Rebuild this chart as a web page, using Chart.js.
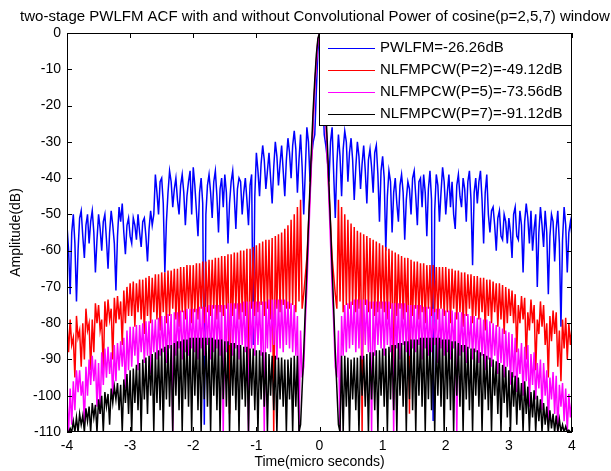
<!DOCTYPE html>
<html>
<head>
<meta charset="utf-8">
<title>two-stage PWLFM ACF</title>
<script src="https://cdn.jsdelivr.net/npm/chart.js@4.4.1/dist/chart.umd.min.js"></script>
<style>
  html, body { margin: 0; padding: 0; background: #fff; }
  canvas { display: block; }
</style>
</head>
<body>
<canvas id="acfChart" width="611" height="471"></canvas>
<script>
// Texte du graphique
const chartTitle = 'two-stage PWLFM ACF with and without Convolutional Power of cosine(p=2,5,7) window';
const legendLabels = ['PWLFM=-26.26dB', 'NLFMPCW(P=2)=-49.12dB', 'NLFMPCW(P=5)=-73.56dB', 'NLFMPCW(P=7)=-91.12dB'];
const seriesColors = ['#0000ff', '#ff0000', '#ff00ff', '#000000'];

// Grille de temps (µs) : -4 .. 4, pas de 0.025 (20 valeurs par ligne = 0.5 µs)
const times = [];
for (let i = 0; i <= 320; i++) times.push(Math.round((-4 + i * 0.025) * 1000) / 1000);

// Valeurs (dB)
const pwlfm = [
  -53, -60, -72, -55, -50, -58, -74, -60, -51, -49, -56, -62, -53, -50, -58, -52, -49, -55, -66, -57,
  -50, -54, -60, -52, -50, -57, -65, -55, -49, -53, -58, -71, -56, -48, -52, -47, -55, -61, -53, -51,
  -56, -58, -51, -53, -57, -50, -55, -59, -52, -51, -56, -63, -54, -49, -53, -50, -39, -44, -50, -41,
  -40, -47, -66, -52, -44, -38, -41, -48, -43, -40, -46, -50, -42, -39, -44, -53, -45, -41, -38, -50,
  -37, -42, -49, -56, -44, -40, -47, -108, -50, -42, -39, -44, -51, -41, -38, -45, -55, -43, -40, -48,
  -39, -44, -58, -47, -41, -38, -45, -54, -43, -40, -41, -50, -44, -40, -46, -53, -42, -39, -86, -45,
  -33, -38, -45, -36, -31, -35, -43, -38, -33, -40, -47, -37, -30, -34, -42, -36, -31, -38, -45, -35,
  -29, -33, -40, -31, -27, -32, -44, -35, -28, -37, -50, -38, -26, -30, -41, -34, -30, -28, -16, -5,
  0,
  -5, -16, -28, -31, -35, -41, -30, -26, -39, -51, -36, -28, -34, -45, -32, -27, -30, -41, -33, -29,
  -35, -46, -37, -30, -34, -43, -36, -31, -38, -47, -35, -32, -37, -44, -33, -31, -39, -52, -38, -34,
  -40, -60, -45, -38, -41, -55, -44, -40, -47, -52, -42, -39, -44, -57, -46, -41, -43, -50, -40, -38,
  -45, -53, -41, -40, -48, -39, -44, -56, -43, -38, -46, -107, -49, -39, -42, -52, -44, -37, -41, -50,
  -44, -39, -48, -41, -50, -54, -42, -39, -45, -48, -40, -43, -52, -41, -38, -46, -64, -44, -40, -47,
  -41, -38, -46, -58, -44, -39, -50, -55, -49, -48, -53, -60, -51, -49, -56, -57, -50, -52, -58, -51,
  -55, -62, -50, -48, -56, -57, -49, -53, -66, -52, -47, -51, -58, -49, -60, -54, -50, -70, -55, -48,
  -53, -59, -49, -55, -72, -56, -50, -52, -63, -54, -49, -58, -81, -57, -48, -53, -66, -55, -52, -56
];

const nlfmP2 = [
  -80, -88, -79, -86, -84, -95, -78, -84, -82, -92, -80, -90, -76, -82, -80, -93, -79, -88, -74.5, -80,
  -75, -82, -79, -94, -74, -81, -73.5, -79, -76, -90, -73, -80, -72.5, -79, -74, -86, -71, -80, -70, -78,
  -69, -78, -68.5, -81, -69, -77, -68, -79, -68, -83, -67.5, -78, -67, -80, -67.5, -77, -66.5, -79, -66.5, -82,
  -66, -77, -66, -80, -65.5, -78, -65.5, -76, -65, -79, -65, -81, -64.5, -77, -64.5, -79, -64, -76, -64, -80,
  -64, -77, -63.5, -79, -63.5, -76, -63, -80, -63, -77, -62.5, -78, -62.5, -76, -62, -79, -62, -77, -61.5, -78,
  -61.5, -76, -61, -105, -61, -78, -60.5, -76, -60.5, -79, -60, -77, -60, -78, -59.5, -101, -59.5, -76, -59, -78,
  -58.5, -77, -58, -75, -57.5, -78, -57, -76, -57, -79, -56.5, -110, -56, -76, -55.5, -77, -55, -75, -54, -76,
  -53, -76, -51.5, -75, -50, -77, -48, -74, -46, -76, -72, -67, -62, -53, -44, -34, -24, -15, -8, -2,
  0,
  -2, -8, -15, -24, -34, -44, -53, -62, -67, -72, -76, -46, -74, -48, -77, -50, -75, -51.5, -76, -52.5,
  -75, -53.5, -77, -54.5, -76, -55, -110, -55.5, -75, -56, -77, -56.5, -76, -57, -78, -57.5, -77, -58, -76, -58.5,
  -77, -59, -79, -59.5, -76, -60, -101, -60.5, -78, -61, -76, -61.5, -79, -62, -77, -62, -105, -62.5, -78, -63,
  -76, -63, -79, -63.5, -77, -63.5, -80, -64, -76, -64, -78, -64, -77, -64.5, -79, -64.5, -76, -64.5, -78, -64.5,
  -77, -65, -80, -65, -76, -65.5, -79, -65.5, -77, -66, -81, -66, -78, -66.5, -76, -66.5, -80, -67, -78, -67,
  -79, -67.5, -77, -67.5, -82, -68, -78, -68, -80, -68.5, -77, -69, -81, -69, -79, -69.5, -83, -70, -80, -70.5,
  -78, -71, -80, -72, -88, -75, -80, -72.5, -79, -73, -90, -77, -82, -73.5, -80, -75, -93, -79, -83, -74,
  -81, -75, -86, -80, -95, -78, -85, -76.5, -83, -77, -92, -82, -96, -79, -87, -78.5, -90, -80, -86, -81
];

const nlfmP5 = [
  -101, -110, -98, -108, -96, -104, -93, -99, -93, -100, -96, -108, -92, -100, -90, -97, -89, -96, -90, -103,
  -91, -105, -88, -97, -87, -95, -86.5, -94, -88, -101, -86, -96, -85.5, -93, -85, -92, -84, -98, -82, -93,
  -81, -92, -81, -89, -80.5, -93, -80.5, -88, -80, -91, -79.5, -89, -79.5, -94, -79, -88, -79, -90, -78.5, -89,
  -78, -88, -78, -91, -77.5, -87, -77.5, -110, -77, -89, -77, -87, -76.5, -90, -76.5, -88, -76, -89, -76, -87,
  -76, -88, -76, -90, -75.5, -87, -75.5, -89, -75.5, -86, -75, -90, -75, -88, -75, -87, -75, -89, -75, -110,
  -75, -88, -74.5, -86, -74.5, -89, -74.5, -87, -74.5, -90, -74.5, -86, -74, -88, -74, -110, -74, -87, -74, -89,
  -74, -86, -74, -89, -74, -110, -74, -87, -73.5, -88, -73.5, -86, -73.5, -90, -73.5, -87, -73.5, -88, -73.5, -86,
  -74, -87, -74.5, -88, -75, -89, -78, -110, -82, -95, -92, -80, -70, -58, -46, -35, -24, -15, -8, -2,
  0,
  -2, -8, -15, -24, -35, -46, -58, -70, -80, -92, -95, -82, -110, -78, -89, -75, -88, -74.5, -87, -74,
  -86, -73.5, -88, -73.5, -87, -73.5, -90, -73.5, -86, -73.5, -88, -74, -110, -74, -89, -74, -86, -74, -87, -74,
  -89, -74, -86, -74, -88, -74.5, -110, -74.5, -87, -74.5, -90, -74.5, -86, -74.5, -88, -75, -89, -75, -87, -75,
  -88, -75, -86, -75, -90, -75.5, -87, -75.5, -89, -75.5, -88, -76, -86, -76, -91, -76, -87, -76, -89, -76.5,
  -88, -76.5, -90, -76.5, -87, -77, -110, -77, -89, -77, -88, -77.5, -91, -77.5, -87, -78, -90, -78, -88, -78.5,
  -91, -78.5, -89, -79, -93, -79, -90, -79.5, -92, -80, -89, -80.5, -94, -81, -91, -81.5, -95, -82, -92, -82.5,
  -97, -83, -95, -84, -99, -87, -94, -85.5, -100, -86.5, -96, -86, -103, -88.5, -97, -88, -101, -91, -98, -90,
  -104, -91, -100, -93, -108, -95, -101, -93.5, -105, -94.5, -110, -97, -103, -96.5, -107, -98, -110, -99.5, -106, -101
];

const nlfmP7 = [
  -110, -110, -109, -110, -107, -110, -106, -110, -105, -108, -105.5, -110, -103.5, -107, -103, -110, -102, -106, -102.5, -110,
  -101, -105, -100, -110, -99, -103, -99.5, -108, -98, -102, -97.5, -101, -96.5, -104, -97, -110, -95.5, -102, -94, -105,
  -93, -110, -92.5, -102, -91.5, -104, -91, -110, -90, -101, -89.5, -105, -89, -100, -88.5, -110, -88, -102, -87.5, -104,
  -87, -110, -86.5, -101, -86, -103, -86, -110, -85.5, -100, -85, -104, -85, -110, -84.5, -101, -84.5, -103, -84, -110,
  -84, -100, -84, -104, -84, -110, -84, -101, -84, -103, -84, -110, -84, -100, -84.5, -104, -84.5, -110, -84.5, -101,
  -85, -103, -85, -110, -85.5, -100, -85.5, -104, -86, -110, -86, -101, -86.5, -103, -86.5, -110, -87, -100, -87, -104,
  -87.5, -110, -87.5, -101, -88, -103, -88, -110, -88.5, -100, -89, -104, -89, -110, -89.5, -101, -89.5, -103, -90, -110,
  -90, -101, -89.5, -110, -89, -103, -89, -110, -108, -98, -88, -76, -65, -53, -42, -31, -21, -13, -6, -1.5,
  0,
  -1.5, -6, -13, -21, -31, -42, -53, -65, -76, -88, -98, -108, -110, -89, -110, -89, -103, -89.5, -110, -90,
  -101, -89.5, -104, -89.5, -110, -89, -100, -89, -103, -88.5, -110, -88, -101, -88, -104, -87.5, -110, -87.5, -100, -87,
  -103, -87, -110, -86.5, -101, -86, -104, -86, -110, -85.5, -100, -85.5, -103, -85, -110, -85, -101, -84.5, -104, -84.5,
  -110, -84.5, -100, -84, -103, -84, -110, -84, -101, -84, -104, -84, -110, -84, -100, -84, -103, -84.5, -110, -84.5,
  -101, -84.5, -104, -85, -110, -85, -100, -85.5, -103, -86, -110, -86, -101, -86.5, -104, -87, -110, -87, -100, -87.5,
  -103, -88, -110, -88.5, -101, -89, -104, -89.5, -110, -90, -100, -90.5, -105, -91, -110, -91.5, -102, -92, -106, -93,
  -110, -93.5, -103, -94.5, -108, -95, -104, -96.5, -110, -96, -105, -97.5, -110, -99, -106, -98.5, -110, -100, -107, -101,
  -110, -102, -108, -103, -110, -104, -109, -105, -110, -105.5, -110, -106.5, -110, -108, -110, -108.5, -110, -109.5, -110, -110
];

const allSeries = [pwlfm, nlfmP2, nlfmP5, nlfmP7];

const fontFamily = "'Liberation Sans', Arial, Helvetica, sans-serif";
Chart.defaults.font.family = fontFamily;
Chart.defaults.color = '#000';

// Cadre, graduations intérieures, légende et titre façon MATLAB
const matlabFrame = {
  id: 'matlabFrame',
  afterDraw(chart) {
    const ctx = chart.ctx;
    const a = chart.chartArea;
    const xs = chart.scales.x;
    const ys = chart.scales.y;
    ctx.save();
    ctx.strokeStyle = '#000';
    ctx.lineWidth = 1;

    // graduations
    ctx.beginPath();
    xs.ticks.forEach(t => {
      const px = Math.round(xs.getPixelForValue(t.value)) + 0.5;
      ctx.moveTo(px, a.bottom); ctx.lineTo(px, a.bottom - 5);
      ctx.moveTo(px, a.top); ctx.lineTo(px, a.top + 5);
    });
    ys.ticks.forEach(t => {
      const py = Math.round(ys.getPixelForValue(t.value)) + 0.5;
      ctx.moveTo(a.left, py); ctx.lineTo(a.left + 5, py);
      ctx.moveTo(a.right, py); ctx.lineTo(a.right - 5, py);
    });
    ctx.stroke();

    // cadre
    ctx.strokeRect(a.left + 0.5, a.top + 0.5, a.right - a.left - 1, a.bottom - a.top - 1);

    // légende
    const lx = 319, ly = 33, lw = 252, lh = 92;
    ctx.fillStyle = '#fff';
    ctx.fillRect(lx, ly, lw, lh);
    ctx.strokeRect(lx + 0.5, ly + 0.5, lw, lh);
    ctx.font = '15px ' + fontFamily;
    ctx.textBaseline = 'middle';
    ctx.textAlign = 'left';
    legendLabels.forEach((label, i) => {
      const y = 48 + i * 22;
      ctx.strokeStyle = seriesColors[i];
      ctx.beginPath();
      ctx.moveTo(328, y + 0.5); ctx.lineTo(375, y + 0.5);
      ctx.stroke();
      ctx.fillStyle = '#000';
      ctx.fillText(label, 380, y);
    });

    // titre
    ctx.font = '15px ' + fontFamily;
    ctx.textAlign = 'center';
    ctx.fillStyle = '#000';
    ctx.fillText(chartTitle, 315, 17);
    ctx.restore();
  }
};

const ctx = document.getElementById('acfChart').getContext('2d');

new Chart(ctx, {
  type: 'line',
  data: {
    datasets: allSeries.map((values, k) => ({
      label: legendLabels[k],
      data: values.map((v, i) => ({ x: times[i], y: v })),
      borderColor: seriesColors[k],
      backgroundColor: seriesColors[k],
      borderWidth: 1.5,
      pointRadius: 0,
      tension: 0,
      order: 4 - k
    }))
  },
  options: {
    responsive: false,
    animation: false,
    layout: { padding: { top: 33, right: 39, left: 0, bottom: 0 } },
    scales: {
      x: {
        type: 'linear',
        min: -4,
        max: 4,
        grid: { display: false, drawTicks: false },
        border: { display: false },
        ticks: { stepSize: 1, padding: 6, font: { size: 14 }, color: '#000' },
        title: { display: true, text: 'Time(micro seconds)', font: { size: 14 }, color: '#000', padding: { top: 2, bottom: 0 } },
        afterFit(scale) { scale.height = 39; }
      },
      y: {
        min: -110,
        max: 0,
        grid: { display: false, drawTicks: false },
        border: { display: false },
        ticks: { stepSize: 10, padding: 6, font: { size: 14 }, color: '#000' },
        title: { display: true, text: 'Amplitude(dB)', font: { size: 14 }, color: '#000', padding: { top: 8, bottom: 0 } },
        afterFit(scale) { scale.width = 67; }
      }
    },
    plugins: {
      legend: { display: false },
      tooltip: { enabled: false }
    }
  },
  plugins: [matlabFrame]
});
</script>
</body>
</html>
